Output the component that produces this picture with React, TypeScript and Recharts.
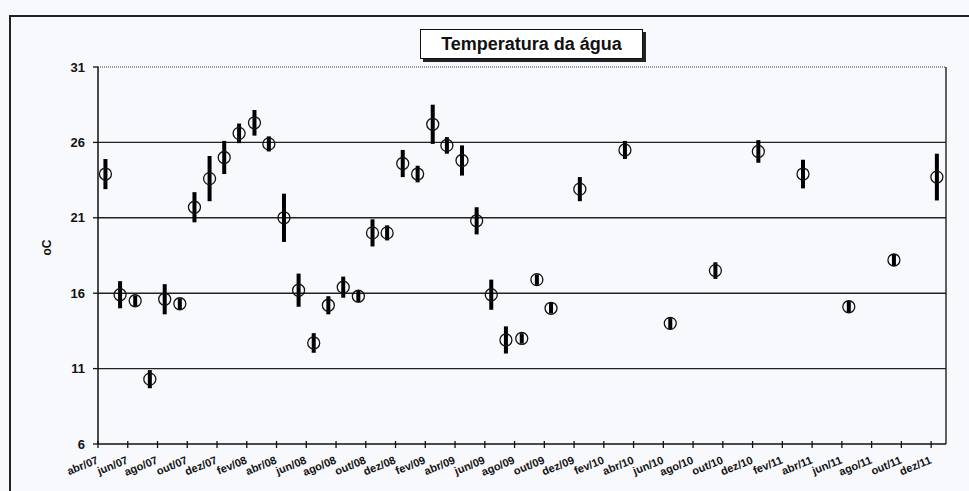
import React from "react";
import {
  ComposedChart,
  ErrorBar,
  ReferenceLine,
  Scatter,
  XAxis,
  YAxis,
} from "recharts";

// tick labels on the time axis, one every two months from abr/07
const tickLabels = [
  "abr/07", "jun/07", "ago/07", "out/07", "dez/07",
  "fev/08", "abr/08", "jun/08", "ago/08", "out/08", "dez/08",
  "fev/09", "abr/09", "jun/09", "ago/09", "out/09", "dez/09",
  "fev/10", "abr/10", "jun/10", "ago/10", "out/10", "dez/10",
  "fev/11", "abr/11", "jun/11", "ago/11", "out/11", "dez/11",
];

// sampling dates
const sampleDates = [
  "2007-04-16", "2007-05-16", "2007-06-16", "2007-07-16", "2007-08-16", "2007-09-16",
  "2007-10-16", "2007-11-16", "2007-12-16", "2008-01-16", "2008-02-16", "2008-03-16",
  "2008-04-16", "2008-05-16", "2008-06-16", "2008-07-16", "2008-08-16", "2008-09-16",
  "2008-10-15", "2008-11-14", "2008-12-16", "2009-01-16", "2009-02-15", "2009-03-15",
  "2009-04-15", "2009-05-15", "2009-06-14", "2009-07-14", "2009-08-16", "2009-09-16",
  "2009-10-15", "2009-12-13", "2010-03-14", "2010-06-15", "2010-09-16", "2010-12-13",
  "2011-03-13", "2011-06-15", "2011-09-16", "2011-12-13",
];

// mean water temperature (oC)
const tempMean = [
  23.9, 15.9, 15.5, 10.3, 15.6, 15.3, 21.7, 23.6, 25.0, 26.6, 27.3, 25.9,
  21.0, 16.2, 12.7, 15.2, 16.4, 15.8, 20.0, 20.0, 24.6, 23.9, 27.2, 25.8,
  24.8, 20.8, 15.9, 12.9, 13.0, 16.9, 15.0, 22.9, 25.5, 14.0, 17.5, 25.4,
  23.9, 15.1, 18.2, 23.7,
];

// standard deviation
const tempSd = [
  1.0, 0.9, 0.35, 0.6, 1.0, 0.35, 1.0, 1.5, 1.1, 0.65, 0.85, 0.5,
  1.6, 1.1, 0.65, 0.6, 0.7, 0.4, 0.9, 0.5, 0.9, 0.55, 1.3, 0.55,
  1.0, 0.9, 1.0, 0.9, 0.35, 0.35, 0.35, 0.8, 0.6, 0.4, 0.55, 0.75,
  0.95, 0.4, 0.4, 1.55,
];

const yTicks = [6, 11, 16, 21, 26, 31];

// months since 1 abr/07
const toMonthIndex = (iso: string) => {
  const [y, m, d] = iso.split("-").map(Number);
  const days = new Date(y, m, 0).getDate();
  return (y - 2007) * 12 + (m - 4) + (d - 1) / days;
};

const data = sampleDates.map((d, i) => ({
  t: toMonthIndex(d),
  temp: tempMean[i],
  sd: tempSd[i],
}));

const xTicks = tickLabels.map((_, i) => i * 2);

const font = "'Liberation Sans', Arial, sans-serif";

const OpenCircle = (props: any) => {
  const { cx, cy } = props;
  if (cx == null || cy == null) return null;
  return <circle cx={cx} cy={cy} r={6} fill="none" stroke="#111" strokeWidth={1.3} />;
};

const XTick = (props: any) => {
  const { x, y, payload } = props;
  const label = tickLabels[Math.round(payload.value / 2)];
  const tx = x + 1;
  const ty = y + 12;
  return (
    <g>
      <line x1={x} x2={x} y1={y - 7} y2={y - 10} stroke="#111" strokeWidth={1.3} />
      <text
        x={tx}
        y={ty}
        textAnchor="end"
        transform={`rotate(-22, ${tx}, ${ty})`}
        fontFamily={font}
        fontWeight="bold"
        fontSize={11}
        fill="#111"
      >
        {label}
      </text>
    </g>
  );
};

export default function App() {
  return (
    <div
      style={{
        position: "absolute",
        left: 0,
        top: 0,
        width: 969,
        height: 491,
        background: "#f8f9fc",
        overflow: "hidden",
      }}
    >
      <div
        style={{
          position: "absolute",
          left: 9,
          top: 15,
          width: 980,
          height: 500,
          borderTop: "2px solid #222",
          borderLeft: "2px solid #222",
        }}
      />
      <ComposedChart
        width={969}
        height={491}
        data={data}
        margin={{ top: 67, right: 23, bottom: 7, left: 28 }}
        style={{ position: "absolute", left: 0, top: 0 }}
      >
        <XAxis
          dataKey="t"
          type="number"
          domain={[0, 57]}
          ticks={xTicks}
          interval={0}
          height={40}
          tickSize={4}
          tickMargin={3}
          axisLine={{ stroke: "#111", strokeWidth: 1.5 }}
          tickLine={{ stroke: "#111", strokeWidth: 1.3 }}
          tick={<XTick />}
        />
        <YAxis
          type="number"
          domain={[6, 31]}
          ticks={yTicks}
          interval={0}
          width={70}
          tickSize={5}
          tickMargin={8}
          axisLine={{ stroke: "#111", strokeWidth: 1.5 }}
          tickLine={{ stroke: "#111", strokeWidth: 1.3 }}
          tick={{ fontFamily: font, fontWeight: "bold", fontSize: 13, fill: "#111" }}
          label={{
            value: "oC",
            angle: -90,
            position: "insideLeft",
            offset: 19,
            style: { fontFamily: font, fontWeight: "bold", fontSize: 12, fill: "#111" },
          }}
        />
        <ReferenceLine y={31} stroke="#777" strokeWidth={1.3} strokeDasharray="1 1" />
        {[11, 16, 21, 26].map((v) => (
          <ReferenceLine key={v} y={v} stroke="#222" strokeWidth={1.4} />
        ))}
        <ReferenceLine x={57} stroke="#222" strokeWidth={1.4} />
        <Scatter dataKey="temp" shape={<OpenCircle />} isAnimationActive={false}>
          <ErrorBar dataKey="sd" direction="y" width={0} stroke="#000" strokeWidth={4} />
        </Scatter>
      </ComposedChart>
      <div
        style={{
          position: "absolute",
          left: 420,
          top: 29,
          width: 221,
          height: 28,
          border: "1.5px solid #111",
          background: "#fff",
          boxShadow: "3px 3px 0 #222",
          fontFamily: font,
          fontWeight: "bold",
          fontSize: 18,
          lineHeight: "28px",
          textAlign: "center",
          color: "#111",
        }}
      >
        Temperatura da água
      </div>
    </div>
  );
}
